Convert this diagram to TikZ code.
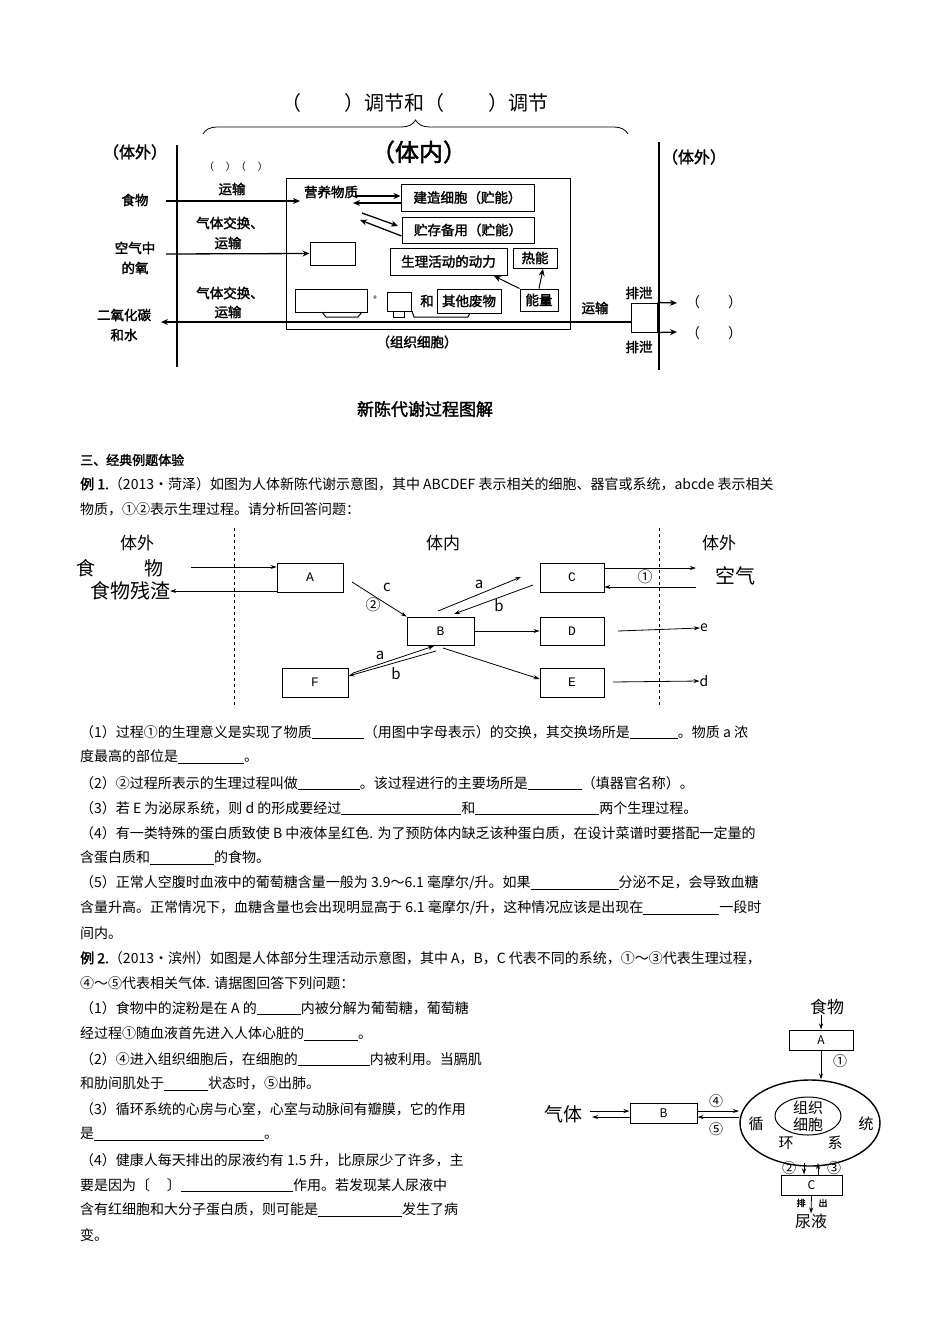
\documentclass[tikz,border=0pt]{standalone}
\usepackage{fontspec}
\setmainfont{Noto Sans CJK SC}
\newfontfamily\cjkb[FakeBold=2]{Noto Sans CJK SC}
\newfontfamily\mono{Liberation Mono}
\usetikzlibrary{arrows.meta,decorations.pathreplacing,shapes.geometric}
\newcommand{\blk}[1]{\rule[-2pt]{#1pt}{0.6pt}}
\begin{document}
\begin{tikzpicture}[x=1pt,y=-1pt,
  bx/.style={draw,line width=1pt,inner sep=0pt},
  tb/.style={font=\cjkb\fontsize{13.5}{14}\selectfont,inner sep=0pt},
  thk/.style={line width=1.3pt,-{Stealth[length=7pt,width=6pt]}},
  thn/.style={line width=0.8pt,-{Stealth[length=6pt,width=4pt]}},
  ln/.style={anchor=west,inner sep=0pt,font=\fontsize{14}{16}\selectfont},
  ex/.style={bx,line width=0.8pt,minimum width=66pt,minimum height=29pt,font=\mono\fontsize{13}{13}\selectfont}]
\useasboundingbox[fill=white] (0,0) rectangle (950,1344);
% ---------- top diagram ----------
\node[font=\fontsize{20}{20}\selectfont,inner sep=0] (title) at (415,103) {（\hspace{2.2em}）调节和（\hspace{2.2em}）调节};
\draw[line width=0.8pt,decorate,decoration={brace,amplitude=14pt}] (203,134) -- (628,134);
\node[tb,font=\cjkb\fontsize{16}{16}\selectfont] (outL) at (135,152) {（体外）};
\node[font=\cjkb\fontsize{24}{24}\selectfont,inner sep=0] (inn) at (419,152) {（体内）};
\node[tb,font=\cjkb\fontsize{16}{16}\selectfont] (outR) at (694,157) {（体外）};
\coordinate (lt) at (177,145); \coordinate (lb) at (177,367);
\coordinate (rt) at (659,142); \coordinate (rb) at (659,370);
\draw[line width=2pt] (lt) -- (lb);
\draw[line width=2pt] (rt) -- (rb);
\node[font=\fontsize{10}{10}\selectfont,inner sep=0] (pp) at (236,167) {（\hspace{1.2em}）（\hspace{1.2em}）};
\node[bx,minimum width=284pt,minimum height=151pt] (cell) at (428,253.5) {};
\node[tb] (ys1) at (232,189) {运输};
\node[tb] (food) at (135,200) {食物};
\node[tb] (nut) at (331,192) {营养物质};
\draw[thk] (166,201) -- (300,201);
\node[bx,minimum width=133pt,minimum height=27pt,tb] (build) at (467.5,197.5) {建造细胞（贮能）};
\node[bx,minimum width=132pt,minimum height=26pt,tb] (store) at (468,230) {贮存备用（贮能）};
\draw[thk] (355,196) -- (build.west |- 0,196);
\draw[thk] (build.west |- 0,203) -- (353,203);
\draw[thk] (362,213) -- (398,226);
\draw[thk] (store.west |- 0,236) -- (360,220);
\node[tb] (gx1) at (230,223) {气体交换、};
\node[tb] (gy1) at (228,243) {运输};
\node[tb] (air1) at (135,248) {空气中};
\node[tb] (air2) at (135,268) {的氧};
\node[bx,minimum width=45pt,minimum height=23pt] (obox) at (332.5,253.5) {};
\draw[thk] (166,254) -- (obox.west);
\node[bx,minimum width=117pt,minimum height=27pt,tb] (power) at (448.5,261.5) {生理活动的动力};
\node[bx,minimum width=44pt,minimum height=20pt,tb] (heat) at (535,258) {热能};
\node[bx,minimum width=38pt,minimum height=22pt,tb] (energy) at (539,300) {能量};
\draw[thk,line width=1pt] (energy.north west) -- (494,276);
\draw[thk,line width=1pt] (energy.north) -- (543,269);
\node[bx,minimum width=72pt,minimum height=23pt] (bl) at (331,300.5) {};
\node[font=\fontsize{8}{8}\selectfont,inner sep=0] (plus) at (375,298) {+};
\node[bx,minimum width=24pt,minimum height=19pt] (sm) at (399,301.5) {};
\node[tb] (he) at (427,301) {和};
\node[bx,minimum width=64pt,minimum height=24pt,tb] (waste) at (469,301) {其他废物};
\draw[line width=1pt] (322,312) -- (326,317) -- (358,317) -- (362,312);
\draw[line width=1pt] (393,311) -- (393,317) -- (404,317) -- (404,311);
\draw[line width=1pt] (412,311) -- (414,317) -- (468,317) -- (470,313);
\node[bx,minimum width=26pt,minimum height=29pt] (rbox) at (644,317.5) {};
\draw[thk] (rbox.west |- 0,322) -- (161,322);
\node[tb] (co1) at (124,315) {二氧化碳};
\node[tb] (co2) at (124,335) {和水};
\node[tb] (gx2) at (230,293) {气体交换、};
\node[tb] (gy2) at (228,312) {运输};
\node[tb] (ys2) at (595,308) {运输};
\node[tb] (px1) at (639,293) {排泄};
\node[tb] (px2) at (639,347) {排泄};
\draw[thk] (rbox.north east) -- (677,303);
\draw[thk] (rbox.south east) -- (677,332);
\node[font=\fontsize{14}{14}\selectfont,inner sep=0] (o1) at (714,302) {（\hspace{2em}）};
\node[font=\fontsize{14}{14}\selectfont,inner sep=0] (o2) at (714,333) {（\hspace{2em}）};
\node[tb] (zz) at (417,342) {（组织细胞）};
\node[font=\cjkb\fontsize{17}{17}\selectfont,inner sep=0] (cap) at (425,409) {新陈代谢过程图解};
% ---------- text ----------
\node[ln,font=\cjkb\fontsize{13}{14}\selectfont] (h3) at (80,460) {三、经典例题体验};
\node[ln] (t1) at (80,484) {{\cjkb 例 1.}（2013•菏泽）如图为人体新陈代谢示意图，其中 ABCDEF 表示相关的细胞、器官或系统，abcde 表示相关};
\node[ln] (t2) at (80,509) {物质，①②表示生理过程。请分析回答问题：};
% ---------- example 1 diagram ----------
\node[font=\fontsize{17}{17}\selectfont,inner sep=0] (w1) at (137,543) {体外};
\node[font=\fontsize{17}{17}\selectfont,inner sep=0] (w2) at (443,543) {体内};
\node[font=\fontsize{17}{17}\selectfont,inner sep=0] (w3) at (719,543) {体外};
\coordinate (d1t) at (234,528); \coordinate (d1b) at (234,708);
\coordinate (d2t) at (659,528); \coordinate (d2b) at (659,708);
\draw[dashed,line width=0.8pt] (d1t) -- (d1b);
\draw[dashed,line width=0.8pt] (d2t) -- (d2b);
\node[ex] (A) at (310,577.5) {A};
\node[ex,minimum width=64pt] (C) at (572,577.5) {C};
\node[ex,minimum width=67pt,minimum height=28pt] (B) at (440.5,631) {B};
\node[ex,minimum width=64pt,minimum height=28pt] (D) at (572,631) {D};
\node[ex,minimum width=64pt] (E) at (572,682.5) {E};
\node[ex] (F) at (315,682.5) {F};
\node[font=\fontsize{19}{19}\selectfont,inner sep=0,anchor=west] (sw) at (76,568) {食\hspace{2.6em}物};
\node[font=\fontsize{20}{20}\selectfont,inner sep=0] (sr) at (130,591) {食物残渣};
\draw[thn] (191,567) -- (A.west |- 0,567);
\draw[thn] (A.west |- 0,591) -- (sr.east);
\draw[thn] (352,582) -- (B.north west);
\node[inner sep=0,font=\fontsize{15}{15}\selectfont] (lc) at (387,587) {c};
\node[inner sep=0,font=\fontsize{15}{15}\selectfont] (l2) at (373,605) {②};
\draw[thn] (438,611) -- (521,577);
\draw[thn] (533,585) -- (454,614);
\node[inner sep=0,font=\fontsize{15}{15}\selectfont] (la1) at (479,584) {a};
\node[inner sep=0,font=\fontsize{15}{15}\selectfont] (lb1) at (499,606) {b};
\node[inner sep=0,font=\fontsize{20}{20}\selectfont] (air) at (735,576) {空气};
\draw[thn] (C.east |- 0,568) -- (696,568);
\draw[thn] (696,587) -- (C.east |- 0,587);
\node[inner sep=0,font=\fontsize{15}{15}\selectfont] (l1) at (645,577) {①};
\draw[thn] (B.east) -- (D.west);
\node[inner sep=0,font=\fontsize{14}{14}\selectfont] (le) at (704,628) {e};
\draw[thn] (618,631) -- (le.west);
\draw[thn] (443,648) -- (E.west |- 0,679);
\node[inner sep=0,font=\fontsize{14}{14}\selectfont] (ld) at (704,681) {d};
\draw[thn] (613,682) -- (ld.west);
\draw[thn] (353,673) -- (434,646);
\draw[thn] (436,651) -- (F.east |- 0,676);
\node[inner sep=0,font=\fontsize{15}{15}\selectfont] (la2) at (380,655) {a};
\node[inner sep=0,font=\fontsize{15}{15}\selectfont] (lb2) at (396,674) {b};
% ---------- questions ----------
\node[ln] (q1) at (80,732) {（1）过程①的生理意义是实现了物质\blk{52}（用图中字母表示）的交换，其交换场所是\blk{48}。物质 a 浓};
\node[ln] (q1b) at (80,757) {度最高的部位是\blk{66}。};
\node[ln] (q2) at (80,783) {（2）②过程所表示的生理过程叫做\blk{62}。该过程进行的主要场所是\blk{54}（填器官名称）。};
\node[ln] (q3) at (80,808) {（3）若 E 为泌尿系统，则 d 的形成要经过\blk{120}和\blk{124}两个生理过程。};
\node[ln] (q4) at (80,833) {（4）有一类特殊的蛋白质致使 B 中液体呈红色. 为了预防体内缺乏该种蛋白质，在设计菜谱时要搭配一定量的};
\node[ln] (q4b) at (80,858) {含蛋白质和\blk{64}的食物。};
\node[ln] (q5) at (80,883) {（5）正常人空腹时血液中的葡萄糖含量一般为 3.9～6.1 毫摩尔/升。如果\blk{88}分泌不足，会导致血糖};
\node[ln] (q5b) at (80,908) {含量升高。正常情况下，血糖含量也会出现明显高于 6.1 毫摩尔/升，这种情况应该是出现在\blk{76}一段时};
\node[ln] (q5c) at (80,933) {间内。};
\node[ln] (p1) at (80,958) {{\cjkb 例 2.}（2013•滨州）如图是人体部分生理活动示意图，其中 A，B，C 代表不同的系统，①～③代表生理过程，};
\node[ln] (p2) at (80,983) {④～⑤代表相关气体. 请据图回答下列问题：};
\node[ln] (r1) at (80,1008) {（1）食物中的淀粉是在 A 的\blk{44}内被分解为葡萄糖，葡萄糖};
\node[ln] (r1b) at (80,1034) {经过程①随血液首先进入人体心脏的\blk{54}。};
\node[ln] (r2) at (80,1059) {（2）④进入组织细胞后，在细胞的\blk{72}内被利用。当膈肌};
\node[ln] (r2b) at (80,1084) {和肋间肌处于\blk{44}状态时，⑤出肺。};
\node[ln] (r3) at (80,1109) {（3）循环系统的心房与心室，心室与动脉间有瓣膜，它的作用};
\node[ln] (r3b) at (80,1134) {是\blk{170}。};
\node[ln] (r4) at (80,1160) {（4）健康人每天排出的尿液约有 1.5 升，比原尿少了许多，主};
\node[ln] (r4b) at (80,1185) {要是因为〔\hspace{1.2em}〕\blk{112}作用。若发现某人尿液中};
\node[ln] (r4c) at (80,1210) {含有红细胞和大分子蛋白质，则可能是\blk{84}发生了病};
\node[ln] (r4d) at (80,1235) {变。};
% ---------- example 2 diagram ----------
\node[inner sep=0,font=\fontsize{17}{17}\selectfont] (sw2) at (827,1007) {食物};
\node[bx,minimum width=64pt,minimum height=20pt,font=\fontsize{12}{12}\selectfont] (A2) at (821,1040) {A};
\draw[thn] (sw2.south -| A2) -- (A2.north);
\node[draw,line width=1.4pt,ellipse,minimum width=140pt,minimum height=86pt,inner sep=0] (circ) at (810,1123) {};
\draw[thn] (A2.south) -- (circ.north -| A2);
\node[inner sep=0,font=\fontsize{14}{14}\selectfont] (c1) at (840,1061) {①};
\node[draw,line width=1pt,ellipse,minimum width=66pt,minimum height=38pt,inner sep=0] (cellc) at (808,1116) {};
\node[inner sep=0,font=\fontsize{15}{17}\selectfont,align=center] (zzt) at (808,1116) {组织\\细胞};
\node[inner sep=0,font=\fontsize{15}{15}\selectfont] (x1) at (756,1124) {循};
\node[inner sep=0,font=\fontsize{15}{15}\selectfont] (x2) at (866,1124) {统};
\node[inner sep=0,font=\fontsize{15}{15}\selectfont] (x3) at (786,1143) {环};
\node[inner sep=0,font=\fontsize{15}{15}\selectfont] (x4) at (835,1143) {系};
\node[bx,minimum width=67pt,minimum height=20pt,font=\fontsize{12}{12}\selectfont] (B2) at (663.5,1113) {B};
\node[inner sep=0,font=\fontsize{19}{19}\selectfont] (gas) at (563,1114) {气体};
\draw[thn] (590,1111) -- (B2.west |- 0,1111);
\draw[thn] (B2.west |- 0,1117) -- (592,1117);
\draw[thn] (B2.east |- 0,1111) -- (739,1111);
\draw[thn] (739,1117) -- (B2.east |- 0,1117);
\node[inner sep=0,font=\fontsize{14}{14}\selectfont] (c4) at (716,1101) {④};
\node[inner sep=0,font=\fontsize{14}{14}\selectfont] (c5) at (716,1129) {⑤};
\node[bx,minimum width=61pt,minimum height=20pt,font=\fontsize{12}{12}\selectfont] (C2) at (811.5,1185) {C};
\draw[thn] (804,1163) -- (C2.north -| 804,0);
\draw[thn] (C2.north -| 818,0) -- (818,1163);
\node[inner sep=0,font=\fontsize{14}{14}\selectfont] (c2) at (789,1168) {②};
\node[inner sep=0,font=\fontsize{14}{14}\selectfont] (c3) at (834,1168) {③};
\node[inner sep=0,font=\fontsize{16}{16}\selectfont] (ny) at (811,1221) {尿液};
\draw[thn] (C2.south) -- (ny.north);
\node[inner sep=0,font=\cjkb\fontsize{9}{9}\selectfont] (pc) at (801,1203) {排};
\node[inner sep=0,font=\cjkb\fontsize{9}{9}\selectfont] (pd) at (823,1203) {出};
\end{tikzpicture}
\end{document}
